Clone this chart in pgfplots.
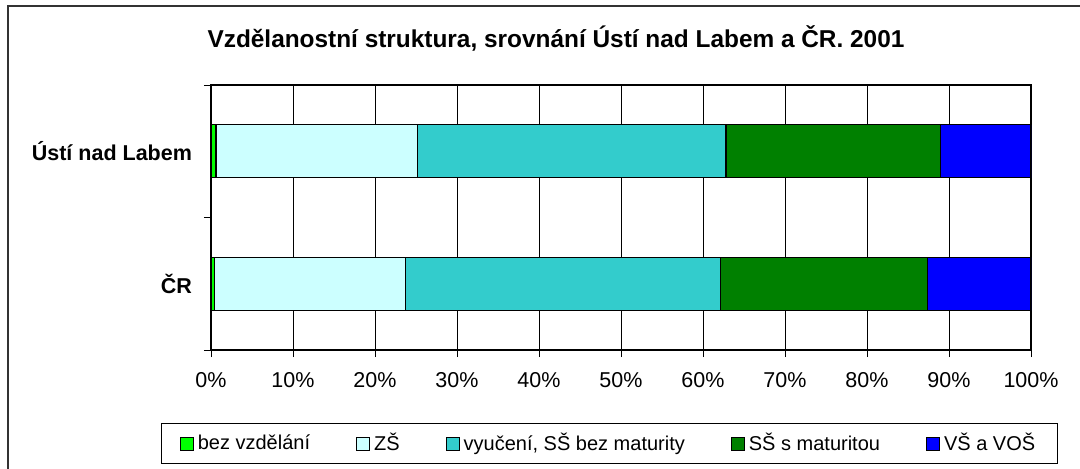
\documentclass[border=0pt]{standalone}
\usepackage{fontspec}
\setmainfont{Liberation Sans}
\usepackage{pgfplots}
\pgfplotsset{compat=1.18}
\definecolor{cBez}{HTML}{00FF00}
\definecolor{cZS}{HTML}{CCFFFF}
\definecolor{cVyu}{HTML}{33CCCC}
\definecolor{cSS}{HTML}{008000}
\definecolor{cVS}{HTML}{0000FF}
\begin{document}
\begin{tikzpicture}
\useasboundingbox (0,0) rectangle (540pt,-234pt);
\draw[line width=0.75pt, black!80] (4pt,-240pt) -- (4pt,-3pt) -- (545pt,-3pt);
\node[font=\fontsize{12.2}{14}\selectfont\bfseries] at (278pt,-19pt) {Vzdělanostní struktura, srovnání Ústí nad Labem a ČR. 2001};
\begin{axis}[
  at={(105.5pt,-175pt)}, anchor=south west,
  scale only axis, width=410pt, height=132.5pt,
  xbar stacked, bar width=0.4,
  xmin=0, xmax=100, ymin=-0.5, ymax=1.5,
  xtick={0,10,...,100},
  xticklabel={\pgfmathprintnumber{\tick}\%},
  /pgf/number format/assume math mode=true,
  ytick={-0.5,0.5,1.5}, yticklabels={},
  extra y ticks={0,1},
  extra y tick labels={ČR,Ústí nad Labem},
  extra y tick style={major tick length=0pt, yticklabel style={font=\fontsize{10.75}{12}\selectfont\bfseries, xshift=-6pt}},
  tick align=outside, xtick pos=bottom, ytick pos=left,
  major tick length=3.5pt,
  tick style={black, line width=0.5pt},
  xmajorgrids, grid style={black, line width=0.5pt},
  axis line style={black, line width=0.7pt},
  ticklabel style={font=\fontsize{10.75}{12}\selectfont},
  xticklabel style={yshift=-4pt},
  legend columns=5,
  legend style={at={(0.486,-0.275)}, anchor=north, draw=black, line width=0.5pt,
    font=\fontsize{10}{11}\selectfont, inner ysep=3pt, inner xsep=9pt,
    /tikz/every even column/.append style={column sep=21pt}},
  legend image code/.code={\draw[#1, line width=0.5pt] (0pt,-3.25pt) rectangle (6.5pt,3.25pt);},
  every axis plot/.append style={draw=black, line width=0.6pt},
]
\addplot[fill=cBez] coordinates {(0.4,0) (0.6,1)};
\addplot[fill=cZS] coordinates {(23.3,0) (24.6,1)};
\addplot[fill=cVyu] coordinates {(38.4,0) (37.6,1)};
\addplot[fill=cSS] coordinates {(25.3,0) (26.2,1)};
\addplot[fill=cVS] coordinates {(12.6,0) (11.0,1)};
\legend{bez vzdělání, ZŠ, {vyučení, SŠ bez maturity}, SŠ s maturitou, VŠ a VOŠ}
\end{axis}
\end{tikzpicture}
\end{document}
